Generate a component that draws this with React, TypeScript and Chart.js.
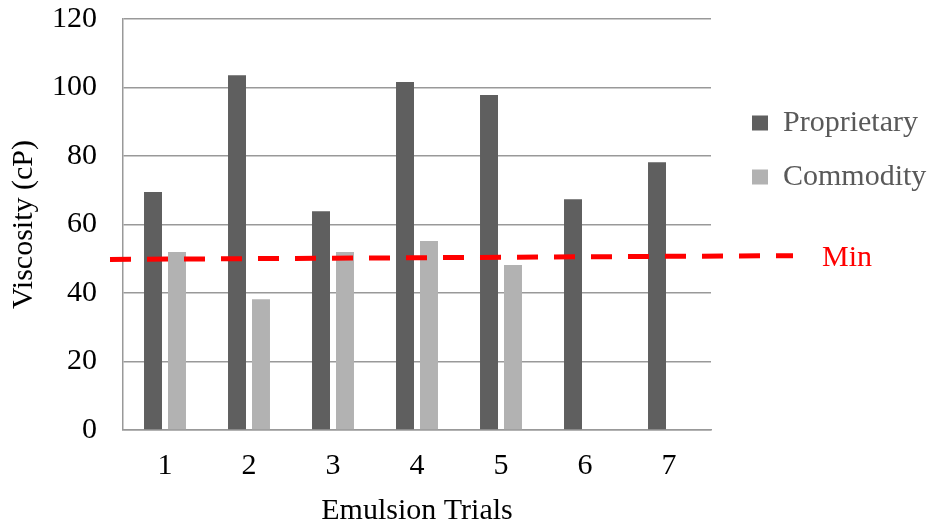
import React, { useEffect, useRef } from 'react';
import { Chart, registerables } from 'chart.js';

Chart.register(...registerables);

const categories = ['1', '2', '3', '4', '5', '6', '7'];
const proprietary = [69.5, 103.6, 63.9, 101.6, 97.8, 67.4, 78.2];
const commodity: (number | null)[] = [52, 38.2, 52, 55.2, 48.2, null, null];
const yMin = 0;
const yMax = 120;
const yStep = 20;
// dashed "Min" reference line: value at its left end and at its right end
const minLine = [49.8, 50.9];
const minLabel = 'Min';
const xTitle = 'Emulsion Trials';
const yTitle = 'Viscosity (cP)';

const FONT = '"Liberation Serif", "Times New Roman", serif';
const GRID = '#999999';

const minLinePlugin = {
  id: 'minLine',
  afterLayout(chart: any) {
    // nudge the legend column to the right, as in the reference
    if (chart.legend) {
      chart.legend.left += 17;
      chart.legend.right += 17;
    }
  },
  afterDatasetsDraw(chart: any) {
    const { ctx, chartArea, scales } = chart;
    const y = scales.y;
    const x0 = chartArea.left - 13;
    const x1 = chartArea.right + 82;
    ctx.save();
    ctx.strokeStyle = '#ff0000';
    ctx.lineWidth = 5;
    ctx.setLineDash([21, 16]);
    ctx.beginPath();
    ctx.moveTo(x0, y.getPixelForValue(minLine[0]));
    ctx.lineTo(x1, y.getPixelForValue(minLine[1]));
    ctx.stroke();
    ctx.setLineDash([]);
    ctx.fillStyle = '#ff0000';
    ctx.font = `30px ${FONT}`;
    ctx.textAlign = 'left';
    ctx.textBaseline = 'middle';
    ctx.fillText(minLabel, chartArea.right + 111, y.getPixelForValue(minLine[1]) + 2);
    ctx.restore();
  },
};

export default function App() {
  const ref = useRef<HTMLCanvasElement | null>(null);

  useEffect(() => {
    document.body.style.margin = '0';
    if (!ref.current) return;
    const chart = new Chart(ref.current, {
      type: 'bar',
      data: {
        labels: categories,
        datasets: [
          {
            label: 'Proprietary',
            data: proprietary,
            backgroundColor: '#5f5f5f',
            categoryPercentage: 0.571,
            barPercentage: 0.75,
          },
          {
            label: 'Commodity',
            data: commodity,
            backgroundColor: '#b2b2b2',
            categoryPercentage: 0.571,
            barPercentage: 0.75,
          },
        ],
      },
      options: {
        responsive: false,
        animation: false,
        devicePixelRatio: 1,
        layout: { padding: { top: 19, left: 6, right: 0, bottom: 0 } },
        plugins: {
          tooltip: { enabled: false },
          legend: {
            position: 'right',
            align: 'start',
            title: { display: true, text: ' ', font: { size: 10 }, padding: { top: 53, bottom: 0 } },
            labels: {
              boxWidth: 16,
              boxHeight: 15,
              padding: 24,
              color: '#595959',
              font: { family: FONT, size: 30 },
            },
          },
        },
        scales: {
          x: {
            grid: { display: false, drawTicks: false },
            border: { display: true, color: GRID, width: 1.5 },
            ticks: { color: '#000', font: { family: FONT, size: 30 }, padding: 18, maxRotation: 0 },
            title: {
              display: true,
              text: xTitle,
              color: '#000',
              font: { family: FONT, size: 30 },
              padding: { top: 9, bottom: 0 },
            },
            afterFit: (s: any) => {
              s.height = 99;
              s.paddingLeft = 0;
              s.paddingRight = 222;
            },
          },
          y: {
            min: yMin,
            max: yMax,
            grid: { color: GRID, lineWidth: 1.5, drawTicks: false },
            border: { display: true, color: GRID, width: 1.5 },
            ticks: { stepSize: yStep, color: '#000', font: { family: FONT, size: 30 }, padding: 26 },
            title: {
              display: true,
              text: yTitle,
              color: '#000',
              font: { family: FONT, size: 30 },
              padding: { top: 0, bottom: 10 },
            },
            afterFit: (s: any) => {
              s.width = 117;
              s.paddingTop = 0;
              s.paddingBottom = 0;
            },
          },
        },
      },
      plugins: [minLinePlugin],
    });
    return () => chart.destroy();
  }, []);

  return (
    <div style={{ width: 933, height: 529 }}>
      <canvas ref={ref} width={933} height={529} />
    </div>
  );
}
